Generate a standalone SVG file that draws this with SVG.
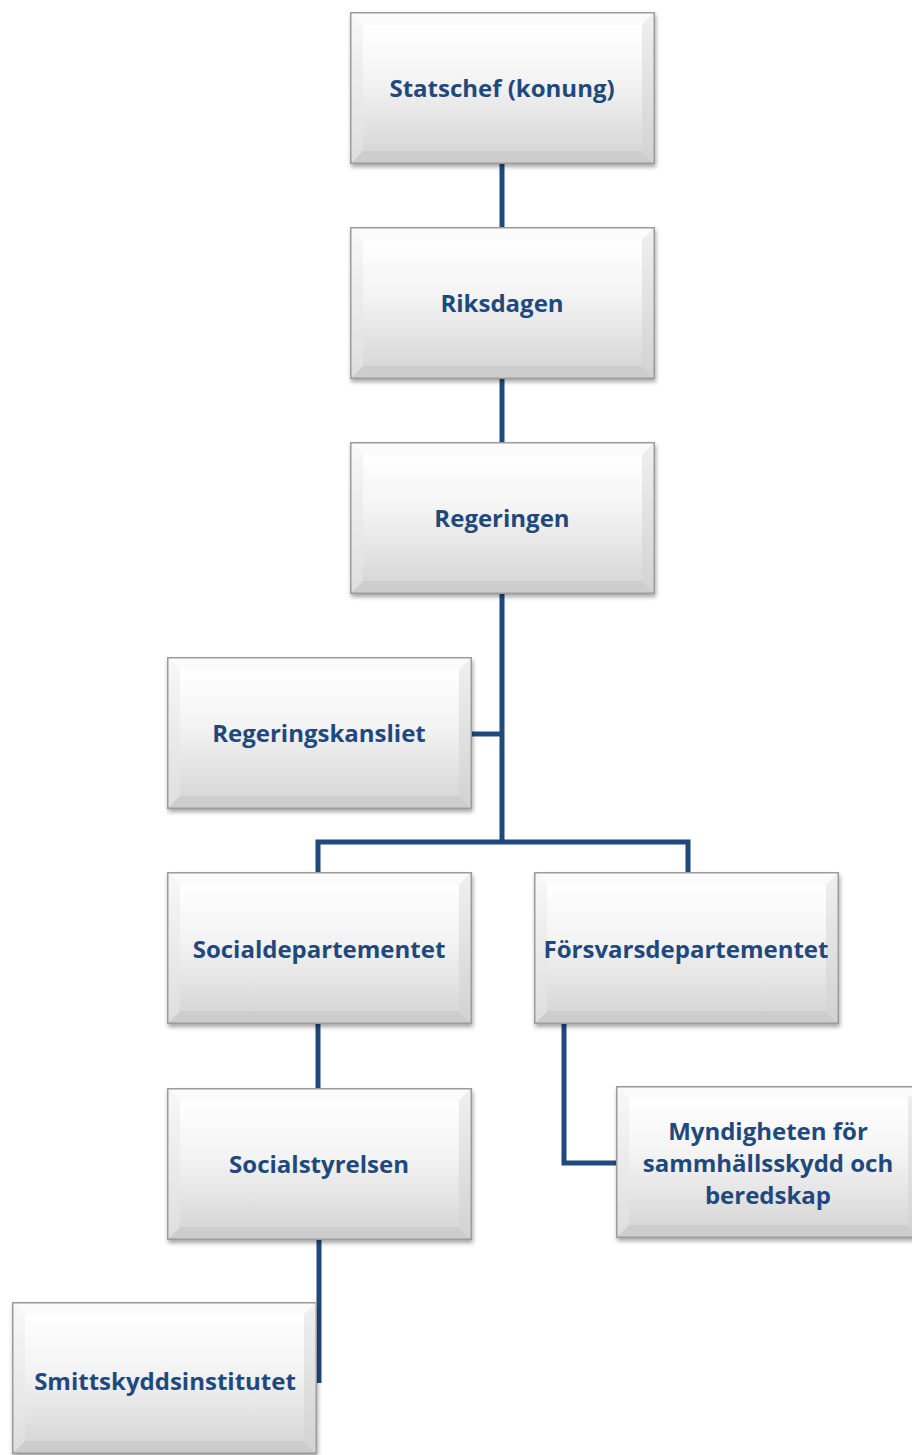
<svg xmlns="http://www.w3.org/2000/svg" xmlns:xlink="http://www.w3.org/1999/xlink" width="912" height="1455" viewBox="0 0 912 1455">
<style>
.lbl{font-family:"Open Sans","Noto Sans","Liberation Sans",sans-serif;font-weight:bold;font-size:24px;fill:#1F497D;text-anchor:middle;dominant-baseline:central}
.conn{fill:none;stroke:#1F497D;stroke-width:5}
</style>
<defs>
<linearGradient id="face" x1="0" y1="0" x2="0" y2="1">
<stop offset="0" stop-color="#ffffff"/>
<stop offset="0.45" stop-color="#f3f3f3"/>
<stop offset="1" stop-color="#d8d8d8"/>
</linearGradient>
<linearGradient id="side" x1="0" y1="0" x2="0" y2="1">
<stop offset="0" stop-color="#f8f8f8"/>
<stop offset="1" stop-color="#dedede"/>
</linearGradient>
<linearGradient id="rside" x1="0" y1="0" x2="0" y2="1">
<stop offset="0" stop-color="#f0f0f0"/>
<stop offset="1" stop-color="#d2d2d2"/>
</linearGradient>
<filter id="sh" x="-5%" y="-5%" width="115%" height="120%">
<feDropShadow dx="1" dy="3" stdDeviation="2" flood-color="#000" flood-opacity="0.35"/>
</filter>
<g id="box">
<rect x="0" y="0" width="305" height="152" fill="#e8e8e8" filter="url(#sh)"/>
<rect x="13" y="13" width="279" height="126" fill="url(#face)"/>
<polygon points="0,0 305,0 292,13 13,13" fill="#fbfbfb"/>
<polygon points="0,0 13,13 13,139 0,152" fill="url(#side)"/>
<polygon points="305,0 305,152 292,139 292,13" fill="url(#rside)"/>
<polygon points="0,152 13,139 292,139 305,152" fill="#cdcdcd"/>
<rect x="0.75" y="0.75" width="303.5" height="150.5" fill="none" stroke="#9c9c9c" stroke-width="1.5"/>
</g>
</defs>
<rect width="912" height="1455" fill="#ffffff"/>
<g id="connectors">
<line class="conn" x1="502" y1="163" x2="502" y2="227"/>
<line class="conn" x1="502" y1="378" x2="502" y2="442"/>
<line class="conn" x1="502" y1="593" x2="502" y2="842"/>
<line class="conn" x1="471" y1="734" x2="502" y2="734"/>
<polyline class="conn" points="318,873 318,842 688,842 688,873"/>
<line class="conn" x1="318" y1="1024" x2="318" y2="1088"/>
<polyline class="conn" points="564,1024 564,1163 616,1163"/>
<line class="conn" x1="319" y1="1239" x2="319" y2="1383"/>
</g>
<g id="n-statschef"><use xlink:href="#box" x="350" y="12"/><text class="lbl" x="502" y="87">Statschef (konung)</text></g>
<g id="n-riksdagen"><use xlink:href="#box" x="350" y="227"/><text class="lbl" x="502" y="302">Riksdagen</text></g>
<g id="n-regeringen"><use xlink:href="#box" x="350" y="442"/><text class="lbl" x="502" y="517">Regeringen</text></g>
<g id="n-regeringskansliet"><use xlink:href="#box" x="167" y="657"/><text class="lbl" x="319" y="732">Regeringskansliet</text></g>
<g id="n-socialdep"><use xlink:href="#box" x="167" y="872"/><text class="lbl" x="319" y="948">Socialdepartementet</text></g>
<g id="n-forsvarsdep"><use xlink:href="#box" x="534" y="872"/><text class="lbl" x="686" y="948">Försvarsdepartementet</text></g>
<g id="n-socialstyrelsen"><use xlink:href="#box" x="167" y="1088"/><text class="lbl" x="319" y="1163">Socialstyrelsen</text></g>
<g id="n-msb"><use xlink:href="#box" x="616" y="1086"/><text class="lbl" x="768" y="1130">Myndigheten för</text><text class="lbl" x="768" y="1162">sammhällsskydd och</text><text class="lbl" x="768" y="1194">beredskap</text></g>
<g id="n-smittskydd"><use xlink:href="#box" x="12" y="1302"/><text class="lbl" x="165" y="1380">Smittskyddsinstitutet</text></g>
</svg>
